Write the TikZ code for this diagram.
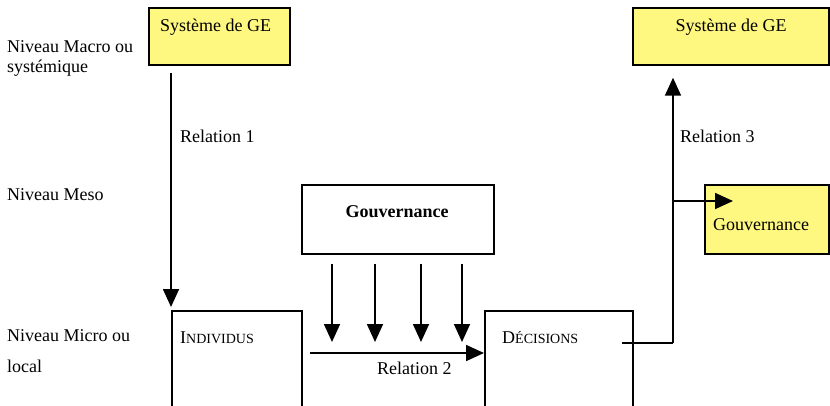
\documentclass[tikz,border=0pt]{standalone}
\usepackage{fontspec}
\setmainfont{Liberation Serif}
\usetikzlibrary{arrows.meta,calc}
\newcommand{\fakesc}[2]{#1{\fontsize{14}{14}\selectfont #2}}

\begin{document}
\begin{tikzpicture}
    [ x=1pt, y=-1pt,
      font={\fontsize{18}{21}\selectfont},
      box/.style={draw, line width=1.7pt, anchor=north west, inner sep=0pt},
      gebox/.style={box, fill=yellow!50},
      txt/.style={anchor=base west, inner sep=0pt},
      ctxt/.style={anchor=base, inner sep=0pt},
      arr/.style={line width=1.7pt, -{Triangle[width=16pt,length=18pt]}},
      link/.style={line width=1.7pt}
    ]
    \clip (0,0) rectangle (830,406);

    % Level labels
    \node[txt] (macro) at (7,53) {Niveau Macro ou};
    \node[txt] (syst) at (7,73) {systémique};
    \node[txt] (meso) at (7,201) {Niveau Meso};
    \node[txt] (micro) at (7,341) {Niveau Micro ou};
    \node[txt] (local) at (7,372) {local};

    % Boxes
    \node[gebox, minimum width=141pt, minimum height=57pt] (geL) at (148,7) {};
    \node[gebox, minimum width=196pt, minimum height=57pt] (geR) at (632,7) {};
    \node[box, minimum width=192pt, minimum height=69pt] (gouv) at (301,184) {};
    \node[gebox, minimum width=124pt, minimum height=69pt] (gouvR) at (704,184) {};
    \node[box, minimum width=130pt, minimum height=130pt] (ind) at (171,310) {};
    \node[box, minimum width=148pt, minimum height=130pt] (dec) at (484,310) {};

    % Box texts
    \node[txt] (geLtxt) at (160,32) {Système de GE};
    \node[ctxt] (geRtxt) at (731,32) {Système de GE};
    \node[ctxt] (gouvtxt) at (397,218) {\textbf{Gouvernance}};
    \node[txt] (gouvRtxt) at (713,231) {Gouvernance};
    \node[txt] (indtxt) at (180,343) {\fakesc{I}{NDIVIDUS}};
    \node[txt] (dectxt) at (502,343) {\fakesc{D}{ÉCISIONS}};

    % Relation 1
    \coordinate (r1) at (171,73);
    \draw[arr] (r1) -- ([yshift=3pt]ind.north west);
    \node[txt] (rel1) at (180,143) {Relation 1};

    % Governance on the link
    \foreach \x in {332,375,421,462} {
        \draw[arr] (\x,264) -- (\x,342);
    }

    % Relation 2
    \coordinate (r2) at (310,353);
    \draw[arr] (r2) -- (dec.west |- r2);
    \node[txt] (rel2) at (377,374) {Relation 2};

    % Relation 3
    \coordinate (r3) at (622,343);
    \coordinate (up) at (673,343);
    \draw[link] (r3) -- (up);
    \draw[arr, shorten >=12pt] (up) -- (up |- geR.south);
    \coordinate (br) at (673,201);
    \draw[arr] (br) -- (733,201);
    \node[txt] (rel3) at (680,143) {Relation 3};

\end{tikzpicture}
\end{document}
